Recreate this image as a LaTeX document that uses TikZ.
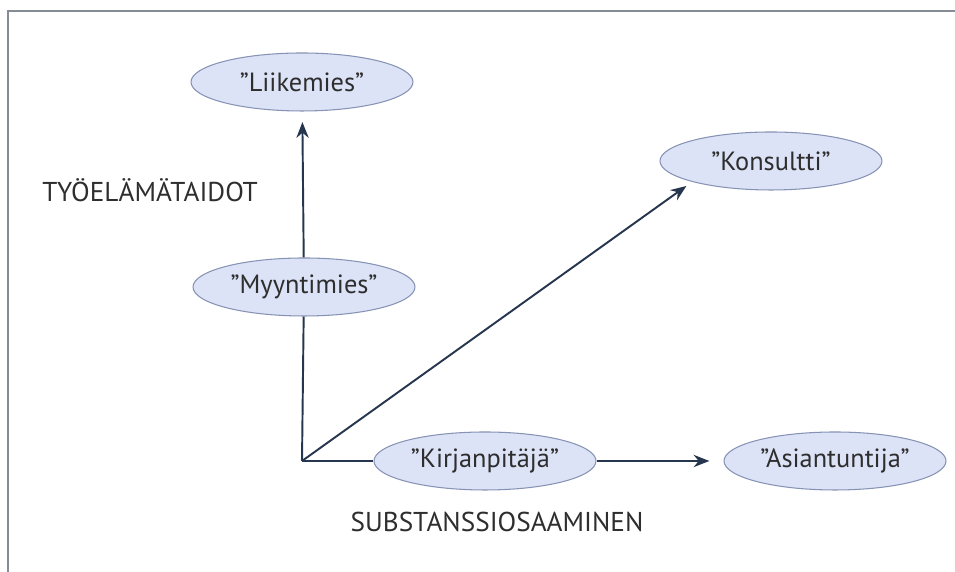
\documentclass[tikz,border=0pt]{standalone}
\usepackage{fontspec}
\setmainfont{PT Sans}
\usepackage{tikz}
\usetikzlibrary{shapes.geometric,arrows.meta}

\definecolor{rolefill}{HTML}{DCE3F6}
\definecolor{roleline}{HTML}{8793B5}
\definecolor{axisblue}{HTML}{27364F}
\definecolor{textgrey}{HTML}{2E2E2E}
\definecolor{framegrey}{HTML}{858C95}

\begin{document}
\begin{tikzpicture}[
    role/.style={ellipse, draw=roleline, fill=rolefill, line width=0.6pt,
      minimum width=4.44cm, minimum height=1.16cm, inner sep=0pt,
      text=textgrey, font=\fontsize{15}{17}\selectfont},
    axis/.style={draw=axisblue, line width=1.1pt},
    axislabel/.style={text=textgrey, font=\fontsize{15.5}{17}\selectfont}
  ]
          \useasboundingbox (0,0) rectangle (19.1,11.44);
          % Frame
          \draw[framegrey, line width=1.2pt] (0.16,0) -- (0.16,11.22) -- (19.1,11.22);

          % Corner of the axes
          \coordinate (origin) at (6.04,2.22);

          % Roles
          \node[role] (liikemies) at (6.04,9.80) {"Liikemies"};
          \node[role] (myyntimies) at (6.08,5.70) {"Myyntimies"};
          \node[role] (konsultti) at (15.42,8.22) {"Konsultti"};
          \node[role] (kirjanpitaja) at (9.70,2.22) {"Kirjanpitäjä"};
          \node[role] (asiantuntija) at (16.70,2.22) {"Asiantuntija"};

          % Axes
          \draw[axis] (origin) -- (myyntimies);
          \draw[axis, -{Stealth[length=9pt,width=7pt]}, shorten >=6pt]
            (myyntimies) -- (liikemies);
          \draw[axis] (origin) -- (kirjanpitaja);
          \draw[axis, -{Stealth[length=9pt,width=7pt]}, shorten >=8pt]
            (kirjanpitaja) -- (asiantuntija);
          \draw[axis, -{Stealth[length=9pt,width=7pt]}, shorten >=4pt]
            (origin) -- (konsultti.south west);

          % Axis labels
          \node[axislabel] (taidot) at (3.0,7.64) {TYÖELÄMÄTAIDOT};
          \node[axislabel] (substanssi) at (9.94,1.0) {SUBSTANSSIOSAAMINEN};
        \end{tikzpicture}
\end{document}
